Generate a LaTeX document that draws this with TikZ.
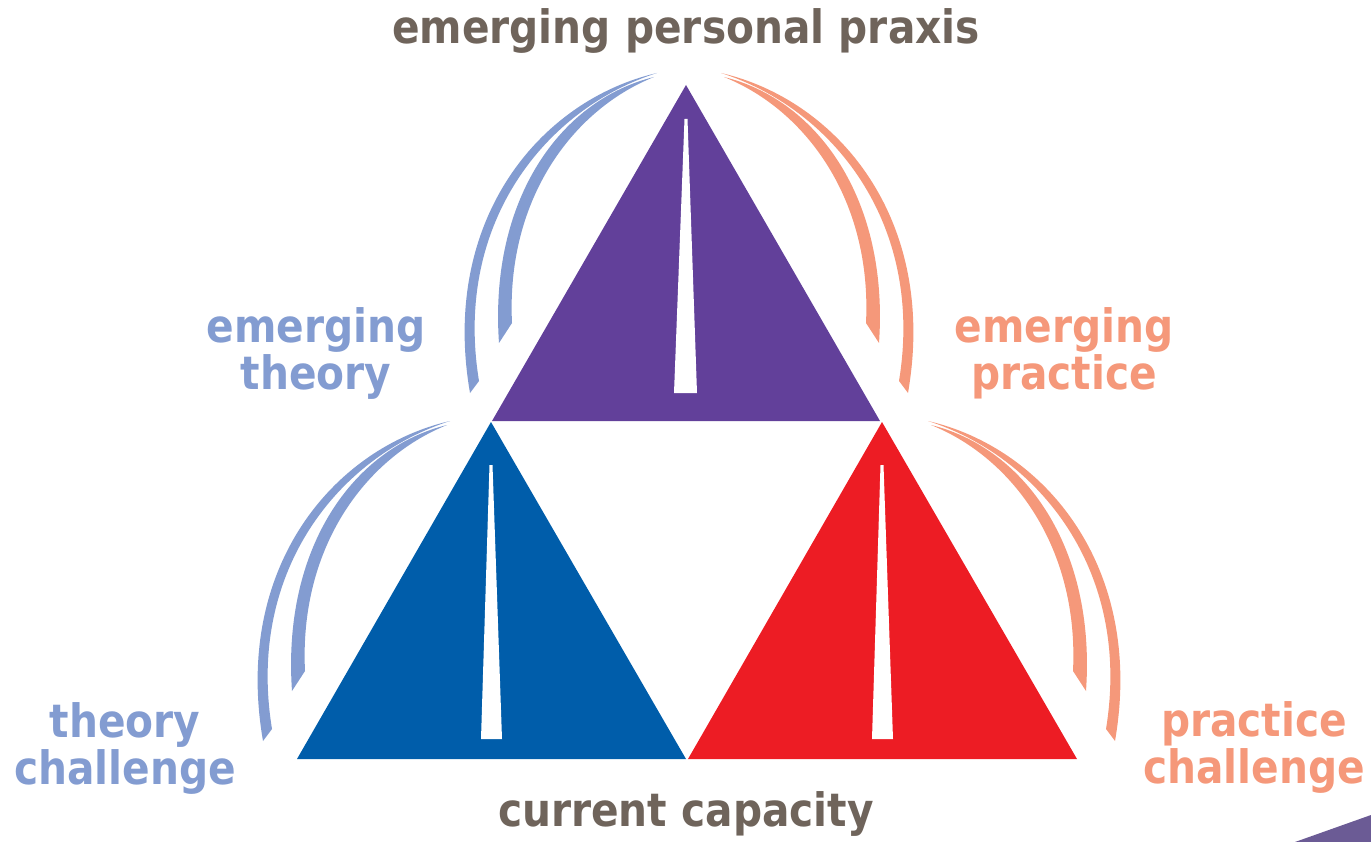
\documentclass[tikz,border=0pt]{standalone}
\usepackage{fontspec}
\newfontfamily\labfont[FakeStretch=0.885]{DejaVu Sans}
\definecolor{cpurple}{HTML}{62409A}
\definecolor{cblue}{HTML}{005DAA}
\definecolor{cred}{HTML}{ED1C24}
\definecolor{carcblue}{HTML}{839CD1}
\definecolor{carcsalmon}{HTML}{F5987A}
\definecolor{ctext}{HTML}{6F645B}
\definecolor{ccorner}{HTML}{6B5B95}
\tikzset{
  lab/.style={inner sep=0pt, font=\labfont\bfseries\fontsize{46}{47}\selectfont, align=center, anchor=base},
  slit/.style={fill=white}
}
\newcommand{\arcpair}{%
  % outer arc
  \fill (657,73) .. controls (540,100) and (440,220) .. (470,393)
        -- (479,381) .. controls (453,222) and (547,108) .. (657,73) -- cycle;
  % inner arc
  \fill (654,77) .. controls (560,100) and (489,200) .. (499,343)
        -- (512,323) .. controls (506,200) and (572,110) .. (654,77) -- cycle;
}
\begin{document}
\begin{tikzpicture}[x=1pt,y=-1pt]
\useasboundingbox (0,0) rectangle (1371,842);
% triangles
\fill[cpurple] (686,85) -- (880,421) -- (492,421) -- cycle;
\fill[cblue] (491,422) -- (686,759) -- (297,759) -- cycle;
\fill[cred] (882,422) -- (1077,759) -- (688,759) -- cycle;
% slits
\fill[slit] (684.5,119) -- (687.5,119) -- (697,393) -- (674,393) -- cycle;
\fill[slit] (489.5,465) -- (492.5,465) -- (502,739) -- (481,739) -- cycle;
\fill[slit] (880.5,465) -- (883.5,465) -- (893,739) -- (872,739) -- cycle;
% arcs
\begin{scope}[fill=carcblue]
  \arcpair
\end{scope}
\begin{scope}[fill=carcblue, shift={(-207,348)}]
  \arcpair
\end{scope}
\begin{scope}[fill=carcsalmon, xshift=1378, xscale=-1]
  \arcpair
\end{scope}
\begin{scope}[fill=carcsalmon, xshift=1378-(-207), xscale=-1, yshift=-348]
  \arcpair
\end{scope}
% corner wedge
\fill[ccorner] (1295,842) -- (1371,815) -- (1371,842) -- cycle;
% labels (base anchor = baseline of the last line)
\node[lab, text=ctext] (top) at (686,44) {emerging personal praxis};
\node[lab, text=ctext] (bottom) at (686,826) {current capacity};
\node[lab, text=carcblue] (etheory) at (316,389) {emerging\\theory};
\node[lab, text=carcsalmon] (epractice) at (1064,389) {emerging\\practice};
\node[lab, text=carcblue] (tchal) at (125,784) {theory\\challenge};
\node[lab, text=carcsalmon] (pchal) at (1254,783) {practice\\challenge};
\end{tikzpicture}
\end{document}
